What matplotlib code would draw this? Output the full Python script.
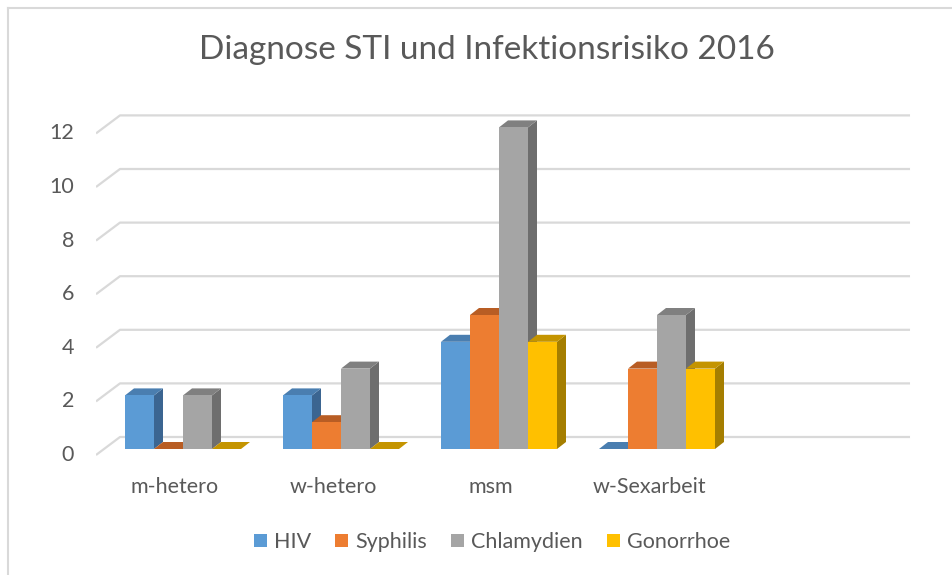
import matplotlib
matplotlib.use("Agg")
import matplotlib.pyplot as plt
from matplotlib.patches import Polygon, Patch
from matplotlib.lines import Line2D

# ---------------- data ----------------
categories = ["m-hetero", "w-hetero", "msm", "w-Sexarbeit"]
series_names = ["HIV", "Syphilis", "Chlamydien", "Gonorrhoe"]
hiv = [2, 2, 4, 0]
syphilis = [0, 1, 5, 3]
chlamydien = [2, 3, 12, 5]
gonorrhoe = [0, 0, 4, 3]
yticks = [0, 2, 4, 6, 8, 10, 12]
title = "Diagnose STI und Infektionsrisiko 2016"

front_colors = ["#5B9BD5", "#ED7D31", "#A5A5A5", "#FFC000"]
top_colors = ["#4A7EB0", "#B85D24", "#808080", "#C49400"]
side_colors = ["#3B6591", "#A9561E", "#6E6E6E", "#A57E00"]
grid_color = "#D9D9D9"
text_color = "#595959"

# ---------------- geometry (pixel-based layout) ----------------
W, H, DPI = 953, 575, 100
fig = plt.figure(figsize=(W / DPI, H / DPI), dpi=DPI)
fig.patch.set_facecolor("white")

SX = 158.0   # px per category slot
SY = 26.8    # px per value unit
x0_px = 96.0  # px of x = -0.5
y0_px = 449.0  # px of value 0 (bar base)
xlim = (-0.5, 4.7)
ylim = (-0.4, 12.7)
left = x0_px
right = x0_px + (xlim[1] - xlim[0]) * SX
bottom = y0_px - ylim[0] * SY
top = y0_px - ylim[1] * SY
ax = fig.add_axes([left / W, (H - bottom) / H, (right - left) / W, (bottom - top) / H])
ax.set_xlim(*xlim)
ax.set_ylim(*ylim)
ax.axis("off")

font = ["Lato", "DejaVu Sans"]
fs = 15.5

# 3D offsets in data units
wall_dx = 24 / SX
front_dy = -6 / SY
back_dy = 12 / SY
bar_dx = 9 / SX
bar_dy = 7 / SY
group_shift = 8 / SX
bw = 29 / SX

# gridlines (perspective floor/back wall)
for v in yticks:
    xs = [xlim[0], xlim[0] + wall_dx, 4.652]
    ys = [v + front_dy, v + back_dy, v + back_dy]
    ax.plot(xs, ys, color=grid_color, lw=1.6, solid_capstyle="butt", zorder=1)
    ax.text(xlim[0] - 22 / SX, v + front_dy, str(v), ha="right", va="center",
            fontsize=fs, color=text_color, family=font, clip_on=False)

series = [hiv, syphilis, chlamydien, gonorrhoe]
for i, cat in enumerate(categories):
    for j, vals in enumerate(series):
        v = vals[i]
        L = i + group_shift + (j - 2) * bw
        R = L + bw
        side = Polygon([(R, 0), (R + bar_dx, bar_dy), (R + bar_dx, v + bar_dy), (R, v)],
                       closed=True, facecolor=side_colors[j], edgecolor="none", zorder=2)
        topf = Polygon([(L, v), (R, v), (R + bar_dx, v + bar_dy), (L + bar_dx, v + bar_dy)],
                       closed=True, facecolor=top_colors[j], edgecolor="none", zorder=2)
        ax.add_patch(side)
        ax.add_patch(topf)
        ax.bar(L, v, width=bw, align="edge", color=front_colors[j], linewidth=0, zorder=2)
    ax.text(i, -38 / SY, cat, ha="center", va="center", fontsize=fs,
            color=text_color, family=font, clip_on=False)

# title
fig.text(487 / W, 1 - 50 / H, title, ha="center", va="center", fontsize=24,
         color=text_color, family=font)

# legend
handles = [Patch(facecolor=c, edgecolor="none", label=n) for c, n in zip(front_colors, series_names)]
leg = fig.legend(handles=handles, loc="center", bbox_to_anchor=(492 / W, 1 - 542 / H), ncol=4,
                 frameon=False, handlelength=0.6, handleheight=0.6,
                 handletextpad=0.35, columnspacing=1.1, prop={"family": font, "size": fs})
for t in leg.get_texts():
    t.set_color(text_color)

# chart frame (left and top border)
fig.add_artist(Line2D([8 / W, 8 / W], [0, 1 - 8 / H], color=grid_color, lw=1.5,
                      transform=fig.transFigure))
fig.add_artist(Line2D([8 / W, 1], [1 - 8 / H, 1 - 8 / H], color=grid_color, lw=1.5,
                      transform=fig.transFigure))

fig.savefig("out.png", dpi=DPI)
